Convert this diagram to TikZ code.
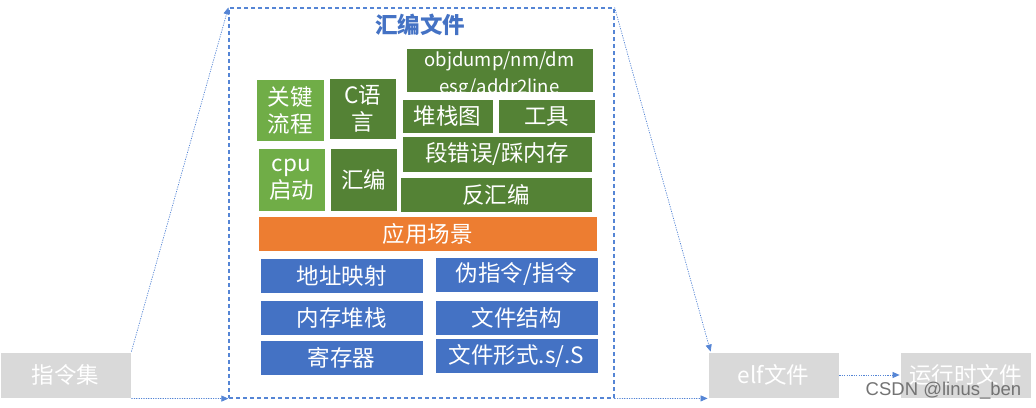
\documentclass[tikz,border=0pt]{standalone}
\usepackage{fontspec}
\setmainfont{Noto Sans CJK SC}
\newfontfamily\wmfont{Liberation Sans}
\usetikzlibrary{arrows.meta}
\definecolor{obl}{HTML}{4472C4}
\definecolor{lgr}{HTML}{70AD47}
\definecolor{dgr}{HTML}{548235}
\definecolor{org}{HTML}{ED7D31}
\definecolor{gry}{HTML}{D9D9D9}
\definecolor{dsh}{HTML}{5585D5}
\tikzset{
  box/.style={rectangle, draw=white, line width=0.8pt, text=white, inner sep=0pt, align=center,
    font=\fontsize{22.5}{27}\selectfont},
  bluebox/.style={box, fill=obl, minimum width=163pt, minimum height=35pt},
  lgbox/.style={box, fill=lgr},
  dgbox/.style={box, fill=dgr},
  graybox/.style={box, fill=gry, minimum width=131pt, minimum height=46pt},
  frame/.style={rectangle, draw=dsh, line width=1.2pt, dash pattern=on 4pt off 3pt},
  conn/.style={draw=dsh, line width=0.7pt, dash pattern=on 1.2pt off 1.2pt, -{Triangle[length=7pt,width=6pt]}},
}
\begin{document}
\begin{tikzpicture}[x=1pt,y=-1pt]
\useasboundingbox (0,0) rectangle (1036,407);
% outer frame
\node[frame, minimum width=385pt, minimum height=390pt, inner sep=0pt] (frame) at (421.5,203) {};
\node[text=obl, font=\fontsize{22.5}{26}\selectfont\bfseries] (title) at (420,25) {汇编文件};
% green area
\node[lgbox, minimum width=68pt, minimum height=62pt] (gjlc) at (290,110) {关键\\流程};
\node[dgbox, minimum width=67pt, minimum height=61pt] (cyy) at (362.5,108.5) {C语\\言};
\node[dgbox, minimum width=187pt, minimum height=44pt] (obj) at (499.5,70) {};
\begin{scope}
  \clip (406,48) rectangle (593,92);
  \node[text=white, anchor=base, font=\fontsize{18.5}{27}\selectfont, inner sep=0pt] (objl1) at (499.5,66) {objdump/nm/dm};
  \node[text=white, anchor=base, font=\fontsize{18.5}{27}\selectfont, inner sep=0pt] (objl2) at (499.5,93) {esg/addr2line};
\end{scope}
\node[dgbox, minimum width=91pt, minimum height=34pt] (dzt) at (447.5,116) {堆栈图};
\node[dgbox, minimum width=97pt, minimum height=34pt] (gj) at (546.5,116) {工具};
\node[dgbox, minimum width=190pt, minimum height=36pt] (dcw) at (497,154) {段错误/踩内存};
\node[lgbox, minimum width=67pt, minimum height=63pt] (cpu) at (291.5,179.5) {cpu\\启动};
\node[dgbox, minimum width=67pt, minimum height=63pt] (hb) at (363.5,179.5) {汇编};
\node[dgbox, minimum width=192pt, minimum height=35pt] (fhb) at (496,194.5) {反汇编};
% orange
\node[box, fill=org, minimum width=339pt, minimum height=35pt] (yycj) at (427.5,233.5) {应用场景};
% blue
\node[bluebox] (dzys) at (341.5,275.5) {地址映射};
\node[bluebox] (wzl) at (516.5,274.5) {伪指令/指令};
\node[bluebox] (ncdz) at (341.5,317.5) {内存堆栈};
\node[bluebox] (wjjg) at (516.5,317.5) {文件结构};
\node[bluebox] (jcq) at (341.5,357.5) {寄存器};
\node[bluebox] (wjxs) at (516.5,355.5) {文件形式.s/.S};
% gray boxes
\node[graybox] (zlj) at (65.5,375) {指令集};
\node[graybox] (elf) at (773.5,375) {elf文件};
\node[graybox] (yxs) at (965.5,375) {运行时文件};
% connectors
\draw[conn] (zlj.north east) -- (frame.north west);
\draw[conn] (zlj.south east) -- (frame.south west);
\draw[conn] (frame.north east) -- ([xshift=3pt]elf.north west);
\draw[conn] (frame.south east) -- (elf.south west);
\draw[conn] (elf.east) -- (yxs.west);
% watermark
\node[anchor=base, text=black!55, font=\wmfont\fontsize{18.5}{20}\selectfont, inner sep=0pt] (wm) at (943.5,395) {CSDN @linus\_ben};
\end{tikzpicture}
\end{document}
